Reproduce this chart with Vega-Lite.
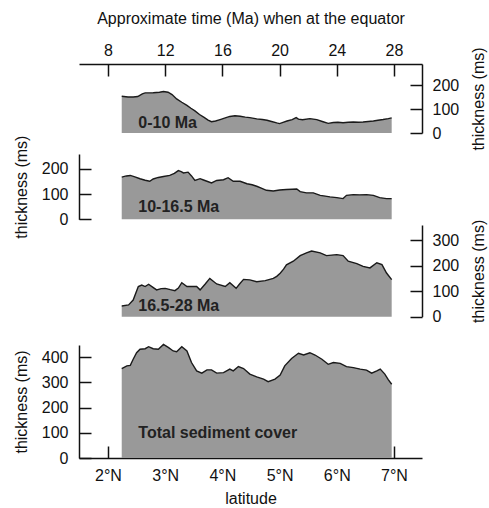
{
  "$schema": "https://vega.github.io/schema/vega-lite/v6.json",
  "width": 343,
  "height": 394,
  "autosize": {"type": "none"},
  "padding": {"left": 79, "top": 64, "right": 67, "bottom": 50},
  "config": {
    "view": {"stroke": null},
    "font": "Liberation Sans",
    "axis": {
      "labelFont": "Liberation Sans",
      "titleFont": "Liberation Sans",
      "labelFontSize": 16,
      "titleFontSize": 16,
      "titleFontWeight": "normal",
      "labelColor": "#111111",
      "titleColor": "#111111",
      "domainColor": "#111111",
      "tickColor": "#111111",
      "domainWidth": 1.5,
      "tickWidth": 1.5,
      "tickSize": -12,
      "grid": false,
      "labelFlush": false,
      "labelOverlap": false
    }
  },
  "datasets": {
    "p1": [
      {"lat": 2.24, "thickness": 153}, {"lat": 2.35, "thickness": 150}, {"lat": 2.44, "thickness": 150}, {"lat": 2.52, "thickness": 152},
      {"lat": 2.6, "thickness": 163}, {"lat": 2.65, "thickness": 167}, {"lat": 2.79, "thickness": 168}, {"lat": 2.9, "thickness": 170},
      {"lat": 2.97, "thickness": 173}, {"lat": 3.05, "thickness": 170}, {"lat": 3.12, "thickness": 160}, {"lat": 3.2, "thickness": 142},
      {"lat": 3.29, "thickness": 128}, {"lat": 3.38, "thickness": 115}, {"lat": 3.45, "thickness": 103}, {"lat": 3.52, "thickness": 92},
      {"lat": 3.6, "thickness": 77}, {"lat": 3.68, "thickness": 65}, {"lat": 3.75, "thickness": 54}, {"lat": 3.81, "thickness": 47},
      {"lat": 3.88, "thickness": 50}, {"lat": 3.96, "thickness": 56}, {"lat": 4.05, "thickness": 63}, {"lat": 4.13, "thickness": 69},
      {"lat": 4.22, "thickness": 72}, {"lat": 4.31, "thickness": 70}, {"lat": 4.4, "thickness": 66}, {"lat": 4.48, "thickness": 64},
      {"lat": 4.6, "thickness": 59}, {"lat": 4.7, "thickness": 56}, {"lat": 4.78, "thickness": 53}, {"lat": 4.86, "thickness": 48},
      {"lat": 4.95, "thickness": 42}, {"lat": 5.0, "thickness": 39}, {"lat": 5.06, "thickness": 44}, {"lat": 5.13, "thickness": 50},
      {"lat": 5.22, "thickness": 56}, {"lat": 5.29, "thickness": 64}, {"lat": 5.33, "thickness": 58}, {"lat": 5.4, "thickness": 55},
      {"lat": 5.53, "thickness": 60}, {"lat": 5.65, "thickness": 56}, {"lat": 5.76, "thickness": 47}, {"lat": 5.85, "thickness": 40},
      {"lat": 5.94, "thickness": 44}, {"lat": 6.02, "thickness": 45}, {"lat": 6.11, "thickness": 43}, {"lat": 6.2, "thickness": 45},
      {"lat": 6.29, "thickness": 46}, {"lat": 6.38, "thickness": 45}, {"lat": 6.46, "thickness": 46}, {"lat": 6.55, "thickness": 48},
      {"lat": 6.64, "thickness": 50}, {"lat": 6.72, "thickness": 53}, {"lat": 6.81, "thickness": 56}, {"lat": 6.9, "thickness": 60},
      {"lat": 6.96, "thickness": 63}
    ],
    "p2": [
      {"lat": 2.24, "thickness": 167}, {"lat": 2.32, "thickness": 172}, {"lat": 2.39, "thickness": 174}, {"lat": 2.47, "thickness": 168},
      {"lat": 2.56, "thickness": 161}, {"lat": 2.65, "thickness": 155}, {"lat": 2.73, "thickness": 151}, {"lat": 2.79, "thickness": 160},
      {"lat": 2.88, "thickness": 166}, {"lat": 2.97, "thickness": 170}, {"lat": 3.08, "thickness": 174}, {"lat": 3.16, "thickness": 182},
      {"lat": 3.23, "thickness": 193}, {"lat": 3.28, "thickness": 189}, {"lat": 3.32, "thickness": 184}, {"lat": 3.4, "thickness": 187},
      {"lat": 3.46, "thickness": 172}, {"lat": 3.52, "thickness": 154}, {"lat": 3.61, "thickness": 161}, {"lat": 3.67, "thickness": 156},
      {"lat": 3.73, "thickness": 151}, {"lat": 3.81, "thickness": 144}, {"lat": 3.9, "thickness": 154}, {"lat": 4.02, "thickness": 157},
      {"lat": 4.1, "thickness": 165}, {"lat": 4.19, "thickness": 151}, {"lat": 4.31, "thickness": 151}, {"lat": 4.43, "thickness": 141},
      {"lat": 4.52, "thickness": 137}, {"lat": 4.6, "thickness": 131}, {"lat": 4.68, "thickness": 124}, {"lat": 4.77, "thickness": 115},
      {"lat": 4.89, "thickness": 112}, {"lat": 5.0, "thickness": 116}, {"lat": 5.12, "thickness": 118}, {"lat": 5.22, "thickness": 119},
      {"lat": 5.3, "thickness": 120}, {"lat": 5.36, "thickness": 110}, {"lat": 5.47, "thickness": 105}, {"lat": 5.59, "thickness": 105},
      {"lat": 5.71, "thickness": 95}, {"lat": 5.8, "thickness": 92}, {"lat": 5.88, "thickness": 89}, {"lat": 6.0, "thickness": 86},
      {"lat": 6.11, "thickness": 82}, {"lat": 6.17, "thickness": 95}, {"lat": 6.29, "thickness": 98}, {"lat": 6.4, "thickness": 97},
      {"lat": 6.52, "thickness": 98}, {"lat": 6.64, "thickness": 95}, {"lat": 6.75, "thickness": 86}, {"lat": 6.87, "thickness": 82},
      {"lat": 6.96, "thickness": 82}
    ],
    "p3": [
      {"lat": 2.24, "thickness": 42}, {"lat": 2.36, "thickness": 46}, {"lat": 2.44, "thickness": 65}, {"lat": 2.53, "thickness": 118},
      {"lat": 2.59, "thickness": 124}, {"lat": 2.65, "thickness": 118}, {"lat": 2.71, "thickness": 127}, {"lat": 2.78, "thickness": 116},
      {"lat": 2.85, "thickness": 105}, {"lat": 2.93, "thickness": 110}, {"lat": 3.0, "thickness": 111}, {"lat": 3.09, "thickness": 106},
      {"lat": 3.17, "thickness": 102}, {"lat": 3.23, "thickness": 112}, {"lat": 3.29, "thickness": 133}, {"lat": 3.38, "thickness": 118},
      {"lat": 3.46, "thickness": 118}, {"lat": 3.55, "thickness": 118}, {"lat": 3.61, "thickness": 105}, {"lat": 3.7, "thickness": 128},
      {"lat": 3.78, "thickness": 150}, {"lat": 3.9, "thickness": 128}, {"lat": 4.05, "thickness": 118}, {"lat": 4.13, "thickness": 133},
      {"lat": 4.24, "thickness": 111}, {"lat": 4.3, "thickness": 128}, {"lat": 4.37, "thickness": 146}, {"lat": 4.48, "thickness": 144},
      {"lat": 4.6, "thickness": 137}, {"lat": 4.75, "thickness": 141}, {"lat": 4.89, "thickness": 150}, {"lat": 4.95, "thickness": 158},
      {"lat": 5.01, "thickness": 170}, {"lat": 5.07, "thickness": 186}, {"lat": 5.12, "thickness": 203}, {"lat": 5.24, "thickness": 217},
      {"lat": 5.36, "thickness": 239}, {"lat": 5.47, "thickness": 250}, {"lat": 5.56, "thickness": 257}, {"lat": 5.71, "thickness": 250},
      {"lat": 5.82, "thickness": 239}, {"lat": 6.0, "thickness": 243}, {"lat": 6.11, "thickness": 239}, {"lat": 6.2, "thickness": 217},
      {"lat": 6.35, "thickness": 208}, {"lat": 6.46, "thickness": 197}, {"lat": 6.58, "thickness": 191}, {"lat": 6.7, "thickness": 211},
      {"lat": 6.79, "thickness": 204}, {"lat": 6.87, "thickness": 171}, {"lat": 6.96, "thickness": 145}
    ],
    "p4": [
      {"lat": 2.24, "thickness": 355}, {"lat": 2.33, "thickness": 366}, {"lat": 2.39, "thickness": 368}, {"lat": 2.44, "thickness": 392},
      {"lat": 2.5, "thickness": 418}, {"lat": 2.56, "thickness": 432}, {"lat": 2.65, "thickness": 434}, {"lat": 2.71, "thickness": 442},
      {"lat": 2.79, "thickness": 434}, {"lat": 2.88, "thickness": 432}, {"lat": 2.97, "thickness": 451}, {"lat": 3.06, "thickness": 438},
      {"lat": 3.14, "thickness": 425}, {"lat": 3.2, "thickness": 422}, {"lat": 3.29, "thickness": 442}, {"lat": 3.38, "thickness": 425},
      {"lat": 3.46, "thickness": 379}, {"lat": 3.55, "thickness": 346}, {"lat": 3.64, "thickness": 337}, {"lat": 3.73, "thickness": 350},
      {"lat": 3.81, "thickness": 350}, {"lat": 3.9, "thickness": 337}, {"lat": 4.02, "thickness": 339}, {"lat": 4.13, "thickness": 353},
      {"lat": 4.19, "thickness": 346}, {"lat": 4.28, "thickness": 363}, {"lat": 4.37, "thickness": 355}, {"lat": 4.48, "thickness": 333},
      {"lat": 4.6, "thickness": 322}, {"lat": 4.72, "thickness": 313}, {"lat": 4.8, "thickness": 303}, {"lat": 4.92, "thickness": 313},
      {"lat": 5.01, "thickness": 329}, {"lat": 5.09, "thickness": 366}, {"lat": 5.21, "thickness": 395}, {"lat": 5.33, "thickness": 416},
      {"lat": 5.42, "thickness": 409}, {"lat": 5.53, "thickness": 418}, {"lat": 5.62, "thickness": 409}, {"lat": 5.74, "thickness": 392},
      {"lat": 5.85, "thickness": 372}, {"lat": 5.94, "thickness": 379}, {"lat": 6.06, "thickness": 376}, {"lat": 6.17, "thickness": 363},
      {"lat": 6.29, "thickness": 359}, {"lat": 6.41, "thickness": 353}, {"lat": 6.52, "thickness": 349}, {"lat": 6.61, "thickness": 337},
      {"lat": 6.7, "thickness": 346}, {"lat": 6.76, "thickness": 353}, {"lat": 6.84, "thickness": 333}, {"lat": 6.9, "thickness": 311},
      {"lat": 6.96, "thickness": 293}
    ]
  },
  "layer": [
    {
      "encoding": {
        "x": {"field": "lat", "type": "quantitative", "scale": {"domain": [1.493, 7.49], "nice": false, "zero": false},
          "axis": {"orient": "top", "values": [2, 3, 4, 5, 6, 7], "labelExpr": "format((datum.value - 2) * 4 + 8, 'd')", "title": "Approximate time (Ma) when at the equator", "labelPadding": 18, "titlePadding": 16}},
        "y": {"field": "thickness", "type": "quantitative", "scale": {"domain": [0, 287.5], "range": [69, 0], "nice": false, "zero": true},
          "axis": {"orient": "right", "values": [0, 100, 200], "title": "thickness (ms)", "titleAngle": -90, "titleBaseline": "top", "labelPadding": 22, "titlePadding": 12}}
      },
      "layer": [
        {"data": {"name": "p1"}, "mark": {"type": "area", "color": "#999999"}, "encoding": {}},
        {"data": {"name": "p1"}, "mark": {"type": "line", "color": "#1a1a1a", "strokeWidth": 1.4}, "encoding": {}},
        {"data": {"values": [{"lat": 2.53, "thickness": 20, "label": "0-10 Ma"}]},
          "mark": {"type": "text", "align": "left", "baseline": "alphabetic", "font": "Liberation Sans", "fontSize": 16, "fontWeight": "bold", "color": "#222222"},
          "encoding": {"text": {"field": "label"}}}
      ]
    },
    {
      "encoding": {
        "x": {"field": "lat", "type": "quantitative", "scale": {"domain": [1.493, 7.49], "nice": false, "zero": false}, "axis": null},
        "y": {"field": "thickness", "type": "quantitative", "scale": {"domain": [0, 259], "range": [155.3, 90], "nice": false, "zero": true},
          "axis": {"orient": "left", "values": [0, 100, 200], "title": "thickness (ms)", "labelPadding": 23, "titlePadding": 12}}
      },
      "layer": [
        {"data": {"name": "p2"}, "mark": {"type": "area", "color": "#999999"}, "encoding": {}},
        {"data": {"name": "p2"}, "mark": {"type": "line", "color": "#1a1a1a", "strokeWidth": 1.4}, "encoding": {}},
        {"data": {"values": [{"lat": 2.53, "thickness": 28, "label": "10-16.5 Ma"}]},
          "mark": {"type": "text", "align": "left", "baseline": "alphabetic", "font": "Liberation Sans", "fontSize": 16, "fontWeight": "bold", "color": "#222222"},
          "encoding": {"text": {"field": "label"}}}
      ]
    },
    {
      "encoding": {
        "x": {"field": "lat", "type": "quantitative", "scale": {"domain": [1.493, 7.49], "nice": false, "zero": false}, "axis": null},
        "y": {"field": "thickness", "type": "quantitative", "scale": {"domain": [0, 358.8], "range": [252.7, 161], "nice": false, "zero": true},
          "axis": {"orient": "right", "values": [0, 100, 200, 300], "title": "thickness (ms)", "titleAngle": -90, "titleBaseline": "top", "labelPadding": 22, "titlePadding": 12}}
      },
      "layer": [
        {"data": {"name": "p3"}, "mark": {"type": "area", "color": "#999999"}, "encoding": {}},
        {"data": {"name": "p3"}, "mark": {"type": "line", "color": "#1a1a1a", "strokeWidth": 1.4}, "encoding": {}},
        {"data": {"values": [{"lat": 2.53, "thickness": 24, "label": "16.5-28 Ma"}]},
          "mark": {"type": "text", "align": "left", "baseline": "alphabetic", "font": "Liberation Sans", "fontSize": 16, "fontWeight": "bold", "color": "#222222"},
          "encoding": {"text": {"field": "label"}}}
      ]
    },
    {
      "encoding": {
        "x": {"field": "lat", "type": "quantitative", "scale": {"domain": [1.493, 7.49], "nice": false, "zero": false},
          "axis": {"orient": "bottom", "values": [2, 3, 4, 5, 6, 7], "labelExpr": "datum.value + '°N'", "title": "latitude", "labelPadding": 21, "titlePadding": 7}},
        "y": {"field": "thickness", "type": "quantitative", "scale": {"domain": [0, 448.7], "range": [394, 281], "nice": false, "zero": true},
          "axis": {"orient": "left", "values": [0, 100, 200, 300, 400], "title": "thickness (ms)", "labelPadding": 23, "titlePadding": 12}}
      },
      "layer": [
        {"data": {"name": "p4"}, "mark": {"type": "area", "color": "#999999"}, "encoding": {}},
        {"data": {"name": "p4"}, "mark": {"type": "line", "color": "#1a1a1a", "strokeWidth": 1.4}, "encoding": {}},
        {"data": {"values": [{"lat": 2.53, "thickness": 79, "label": "Total sediment cover"}]},
          "mark": {"type": "text", "align": "left", "baseline": "alphabetic", "font": "Liberation Sans", "fontSize": 16, "fontWeight": "bold", "color": "#222222"},
          "encoding": {"text": {"field": "label"}}}
      ]
    }
  ],
  "resolve": {"scale": {"x": "independent", "y": "independent"}}
}
